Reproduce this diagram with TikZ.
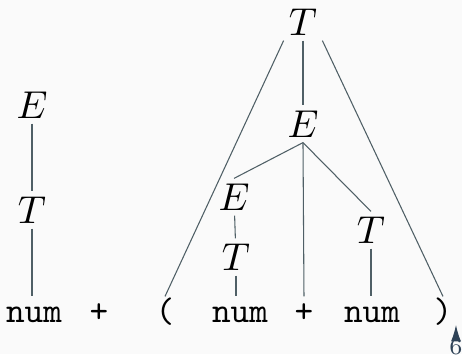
\documentclass[tikz,border=0pt]{standalone}
\usepackage{tikz}
\usetikzlibrary{arrows.meta,positioning}
\definecolor{bg}{HTML}{FAFAFA}
\definecolor{edge}{HTML}{4F5F66}
\definecolor{nav}{HTML}{2E4257}
\tikzset{
  sym/.style={inner sep=1.3pt},
  tok/.style={font=\ttfamily,anchor=base,inner sep=2pt,text height=5pt,text depth=1pt},
  br/.style={draw=edge,line width=0.3pt},
  pgnum/.style={font=\fontsize{6.5pt}{7pt}\selectfont,text=nav,inner sep=0.3pt},
  pgar/.style={-{Latex[length=4.6pt,width=2.8pt]},draw=nav,fill=nav,line width=0.3pt},
}
\begin{document}
\begin{tikzpicture}[x=0.2817pt,y=-0.2817pt,font=\fontsize{10.7pt}{13pt}\selectfont]
\fill[bg] (0,0) rectangle (462,354);
\useasboundingbox (0,0) rectangle (462,354);
% left tree
\node[sym] (e1) at (32,105) {$E$};
\node[sym] (t1) at (32,210) {$T$};
\node[tok] (n1) at (34,322) {num};
\node[tok] (p1) at (99,322) {+};
\draw[br] (e1) -- (t1);
\draw[br] (t1) -- (t1 |- n1.north);
% right tree
\node[tok] (lp) at (165,322) {(};
\node[tok] (n2) at (240,322) {num};
\node[tok] (p2) at (304,322) {+};
\node[tok] (n3) at (372,322) {num};
\node[tok] (rp) at (443,322) {)};
\node[sym] (tT) at (303,22) {$T$};
\node[sym] (mE) at (303,124) {$E$};
\node[sym] (lE) at (234,197) {$E$};
\node[sym] (lT) at (236,257) {$T$};
\node[sym] (rT) at (371,230) {$T$};
\draw[br] (tT.south west) -- (lp.north);
\draw[br] (tT.south) -- (mE.north);
\draw[br] (tT.south east) -- (rp.north);
\draw[br] (mE.south) -- (lE.north);
\draw[br] (mE.south) -- (p2.north);
\draw[br] (mE.south) -- (rT.north);
\draw[br] (lE) -- (lT);
\draw[br] (lT) -- (n2.north -| lT);
\draw[br] (rT) -- (n3.north -| rT);
% page mark
\node[pgnum] (pg) at (456,347) {6};
\coordinate (pgtip) at (456,325);
\draw[pgar] (pg.north) -- (pgtip);
\end{tikzpicture}
\end{document}
